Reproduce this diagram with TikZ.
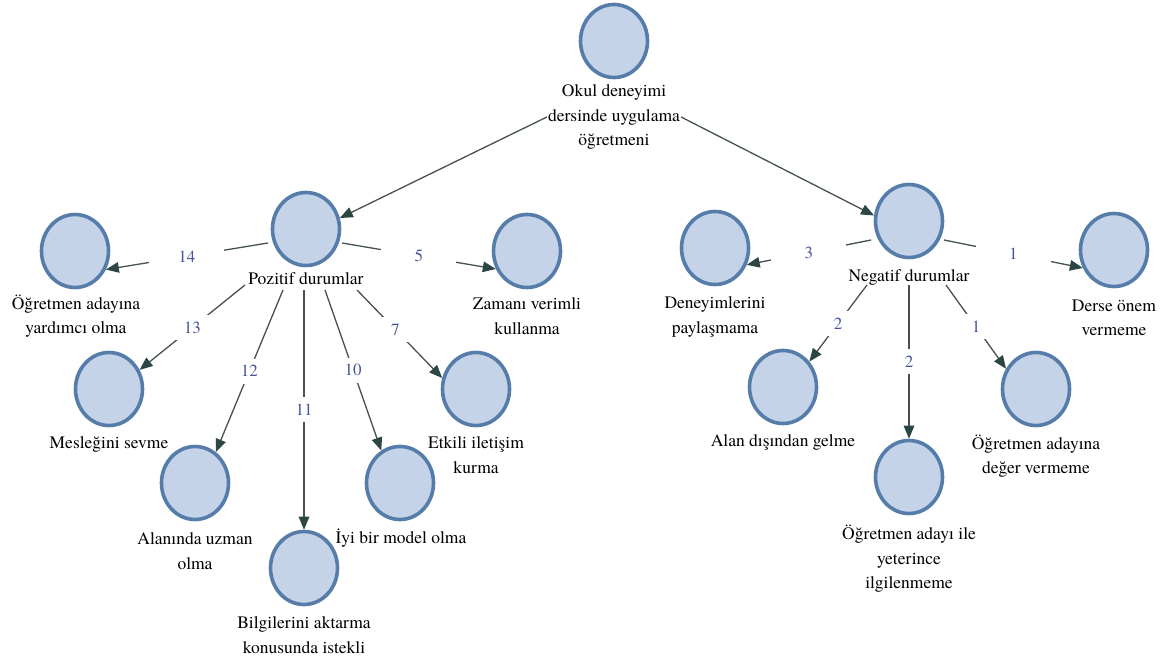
\documentclass[tikz,border=0pt]{standalone}
\usepackage{fontspec}
\IfFontExistsTF{texgyretermes-regular.otf}{\newfontfamily\serifx{texgyretermes-regular.otf}}{\newfontfamily\serifx{Latin Modern Roman}[FakeBold=0.6]}
\usetikzlibrary{arrows.meta,shapes.geometric}
\definecolor{cfill}{RGB}{197,211,232}
\definecolor{cborder}{RGB}{86,124,170}
\definecolor{cline}{RGB}{70,82,82}
\definecolor{carrow}{RGB}{44,70,68}
\definecolor{cnum}{RGB}{70,84,160}
\begin{document}
\begin{tikzpicture}[x=1pt,y=-1pt,
  circ/.style={ellipse,draw=cborder,fill=cfill,line width=3.6pt,minimum width=67pt,minimum height=73pt,inner sep=0pt},
  lbl/.style={align=center,font=\serifx\fontsize{17.5}{24.5}\selectfont,inner sep=1pt,text=black},
  num/.style={fill=white,text=cnum,font=\serifx\fontsize{17}{20}\selectfont,minimum width=75pt,minimum height=25pt,inner sep=0pt},
  link/.style={draw=cline,line width=1.3pt,-{Triangle[length=13pt,width=10.5pt,color=carrow]}},
]
\useasboundingbox (0,0) rectangle (1169,666);
\fill[white] (0,0) rectangle (1169,666);

% nodes
\node[circ] (root) at (614,41) {};
\node[lbl] (rootT) at (614,117) {Okul deneyimi\\dersinde uygulama\\öğretmeni};
\node[circ] (poz) at (306,229) {};
\node[lbl] (pozT) at (306,279) {Pozitif durumlar};
\node[circ] (neg) at (909,221) {};
\node[lbl] (negT) at (909,277) {Negatif durumlar};
\node[circ] (yard) at (75,251) {};
\node[lbl] (yardT) at (76,316) {Öğretmen adayına\\yardımcı olma};
\node[circ] (zaman) at (527,251) {};
\node[lbl] (zamanT) at (527,316) {Zamanı verimli\\kullanma};
\node[circ] (meslek) at (109,389) {};
\node[lbl] (meslekT) at (109,444) {Mesleğini sevme};
\node[circ] (etkili) at (476,389) {};
\node[lbl] (etkiliT) at (476,455) {Etkili iletişim\\kurma};
\node[circ] (alan) at (195,483) {};
\node[lbl] (alanT) at (195,551) {Alanında uzman\\olma};
\node[circ] (bilgi) at (304,568) {};
\node[lbl] (bilgiT) at (304,635) {Bilgilerini aktarma\\konusunda istekli};
\node[circ] (model) at (400,483) {};
\node[lbl] (modelT) at (401,538) {İyi bir model olma};
\node[circ] (deney) at (715,248) {};
\node[lbl] (deneyT) at (715,317) {Deneyimlerini\\paylaşmama};
\node[circ] (derse) at (1114,250) {};
\node[lbl] (derseT) at (1114,318) {Derse önem\\vermeme};
\node[circ] (alandis) at (783,387) {};
\node[lbl] (alandisT) at (783,442) {Alan dışından gelme};
\node[circ] (ilgi) at (909,477) {};
\node[lbl] (ilgiT) at (909,559) {Öğretmen adayı ile\\yeterince\\ilgilenmeme};
\node[circ] (deger) at (1036,389) {};
\node[lbl] (degerT) at (1036,456) {Öğretmen adayına\\değer vermeme};

% root edges
\draw[link] (rootT.west) -- (poz.18);
\draw[link] (rootT.east) -- (neg.171);

% positive edges
\draw[link] ([shift={(-38,14)}]poz.center) -- node[num]{14} (yard.-31);
\draw[link] ([shift={(36,14)}]poz.center) -- node[num]{5} (zaman.210);
\draw[link] ([shift={(-61,56)}]poz.center) -- node[num]{13} (meslek.32);
\draw[link] ([shift={(-23,61)}]poz.center) -- node[num]{12} (alan.56);
\draw[link] ([shift={(-2,61)}]poz.center) -- node[num]{11} (bilgi.north);
\draw[link] ([shift={(19,61)}]poz.center) -- node[num]{10} (model.120);
\draw[link] ([shift={(51,61)}]poz.center) -- node[num,pos=0.45]{7} (etkili.162);

% negative edges
\draw[link] ([shift={(-38,19)}]neg.center) -- node[num]{3} (deney.-28);
\draw[link] ([shift={(35,19)}]neg.center) -- node[num]{1} (derse.210);
\draw[link] ([shift={(-42,64)}]neg.center) -- node[num]{2} (alandis.44);
\draw[link] ([shift={(0,64)}]neg.center) -- node[num]{2} (ilgi.north);
\draw[link] ([shift={(37,64)}]neg.center) -- node[num]{1} (deger.146);
\end{tikzpicture}
\end{document}
